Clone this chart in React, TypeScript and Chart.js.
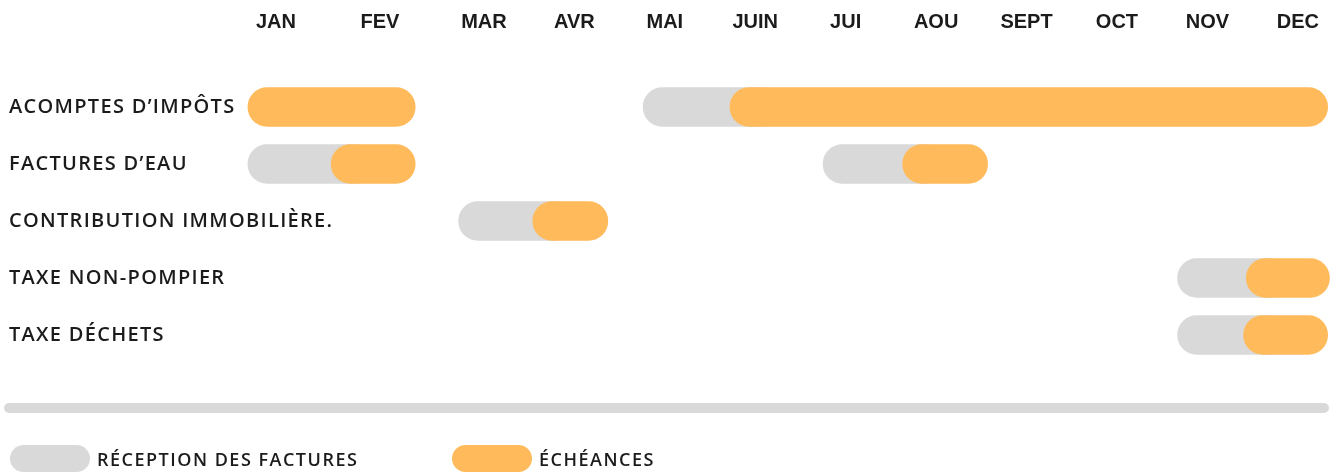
import React, { useEffect, useRef } from "react";
import { Chart, registerables } from "chart.js";

Chart.register(...registerables);

// ---- data ----
const rowLabels = [
  "ACOMPTES D’IMPÔTS",
  "FACTURES D’EAU",
  "CONTRIBUTION IMMOBILIÈRE.",
  "TAXE NON-POMPIER",
  "TAXE DÉCHETS",
];
const monthLabels = ["JAN", "FEV", "MAR", "AVR", "MAI", "JUIN", "JUI", "AOU", "SEPT", "OCT", "NOV", "DEC"];
const monthPositions = [0.7, 1.85, 3, 4, 5, 6, 7, 8, 9, 10, 11, 12];

const legendLabels = ["RÉCEPTION DES FACTURES", "ÉCHÉANCES"];

// reception periods (grey)
const receptionFirst: ([number, number] | null)[] = [
  [4.76, 6.3],
  [0.39, 1.8],
  [2.72, 4.0],
  [10.67, 11.9],
  [10.67, 11.9],
];
const receptionSecond: ([number, number] | null)[] = [null, [6.75, 8.1], null, null, null];

// due dates (orange)
const echeanceFirst: ([number, number] | null)[] = [
  [0.39, 2.24],
  [1.31, 2.24],
  [3.54, 4.37],
  [11.43, 12.35],
  [11.4, 12.33],
];
const echeanceSecond: ([number, number] | null)[] = [[5.72, 12.33], [7.63, 8.57], null, null, null];

// ---- styles ----
const GREY = "#d9d9d9";
const ORANGE = "#ffbb5b";
const TEXT = "#1b1b1b";
const rowFont = { family: "'Open Sans', sans-serif", size: 20, weight: "600" as const };
const monthFont = { family: "'Liberation Sans Narrow', sans-serif", size: 20, weight: "bold" as const };
const legendX = [10, 452];

const decorPlugin = {
  id: "decor",
  afterDraw(chart: any) {
    const ctx = chart.ctx as CanvasRenderingContext2D;
    ctx.save();
    // separator
    ctx.strokeStyle = GREY;
    ctx.lineWidth = 10;
    ctx.lineCap = "round";
    ctx.beginPath();
    ctx.moveTo(9, 408);
    ctx.lineTo(1324, 408);
    ctx.stroke();
    // legend
    const items = [chart.data.datasets[0], chart.data.datasets[2]];
    (ctx as any).letterSpacing = "1.5px";
    items.forEach((ds: any, i: number) => {
      const x = legendX[i];
      const y = 445;
      const w = 80;
      const h = 27;
      ctx.fillStyle = ds.backgroundColor;
      ctx.beginPath();
      (ctx as any).roundRect(x, y, w, h, 13.5);
      ctx.fill();
      ctx.fillStyle = TEXT;
      ctx.font = `600 18px ${rowFont.family}`;
      ctx.textBaseline = "middle";
      ctx.textAlign = "left";
      ctx.fillText(ds.label, x + w + 7, y + h / 2 + 2);
    });
    ctx.restore();
  },
};

export default function App() {
  const ref = useRef<HTMLCanvasElement | null>(null);

  useEffect(() => {
    document.body.style.margin = "0";
    const common = {
      borderRadius: 20,
      borderSkipped: false,
      borderWidth: 0,
      barThickness: 39,
      grouped: false,
    };
    const chart = new Chart(ref.current as HTMLCanvasElement, {
      type: "bar",
      data: {
        labels: rowLabels,
        datasets: [
          { label: legendLabels[0], data: receptionFirst as any, backgroundColor: GREY, order: 1, ...common },
          { label: legendLabels[0], data: receptionSecond as any, backgroundColor: GREY, order: 1, ...common },
          { label: legendLabels[1], data: echeanceFirst as any, backgroundColor: ORANGE, order: 0, ...common },
          { label: legendLabels[1], data: echeanceSecond as any, backgroundColor: ORANGE, order: 0, ...common },
        ],
      },
      options: {
        indexAxis: "y",
        animation: false,
        responsive: true,
        maintainAspectRatio: false,
        layout: { padding: { left: 9, right: 5, top: 0, bottom: 109.5 } },
        plugins: { legend: { display: false }, tooltip: { enabled: false } },
        scales: {
          x: {
            type: "linear",
            position: "top",
            min: -2.252,
            max: 12.4,
            grid: { display: false, drawTicks: false },
            border: { display: false },
            afterBuildTicks: (scale: any) => {
              scale.ticks = monthPositions.map((v) => ({ value: v }));
            },
            afterFit: (scale: any) => {
              scale.height = 78.5;
              scale.paddingLeft = 0;
              scale.paddingRight = 0;
            },
            ticks: {
              autoSkip: false,
              maxRotation: 0,
              padding: 44,
              color: TEXT,
              font: monthFont,
              callback: (_v: any, i: number) => monthLabels[i],
            },
          },
          y: {
            type: "category",
            grid: { display: false, drawTicks: false },
            border: { display: false },
            afterFit: (scale: any) => {
              scale.width = 0;
              scale.paddingTop = 0;
              scale.paddingBottom = 0;
              if (!scale.__spaced) {
                const orig = scale.drawLabels.bind(scale);
                scale.drawLabels = (area: any) => {
                  const c = scale.ctx;
                  c.save();
                  c.letterSpacing = "1.3px";
                  orig(area);
                  c.restore();
                };
                scale.__spaced = true;
              }
            },
            ticks: {
              mirror: true,
              padding: 0,
              crossAlign: "near",
              color: TEXT,
              font: rowFont,
            },
          },
        },
      },
      plugins: [decorPlugin],
    });
    return () => chart.destroy();
  }, []);

  return (
    <div style={{ width: 1339, height: 473, position: "relative" }}>
      <canvas ref={ref} />
    </div>
  );
}
